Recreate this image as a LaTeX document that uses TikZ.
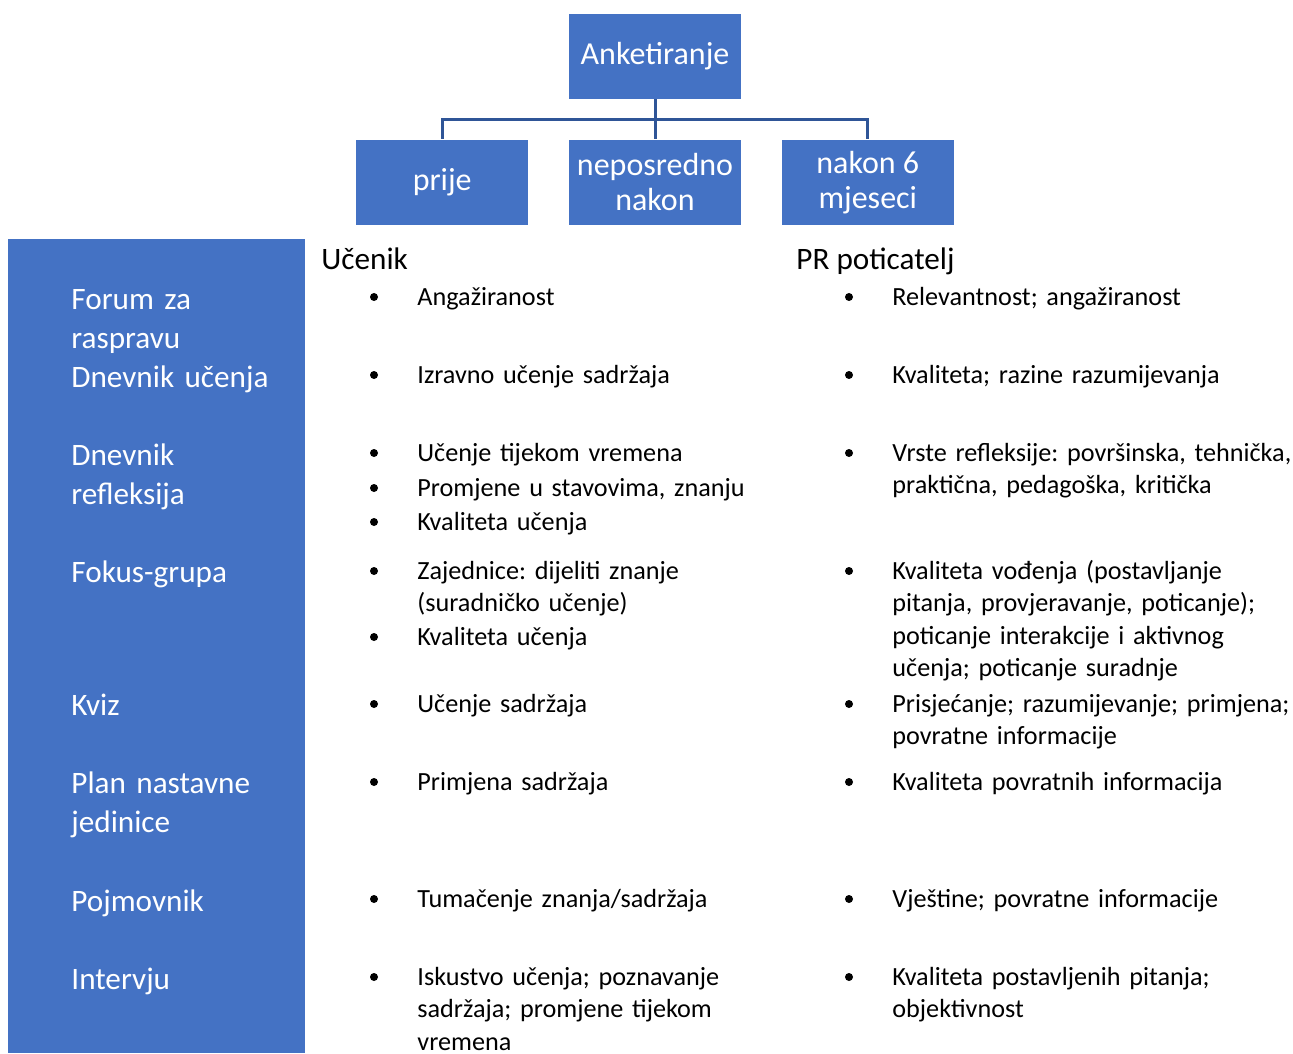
\documentclass[tikz,border=0pt]{standalone}
\usepackage{fontspec}
\setmainfont{Carlito}
\usetikzlibrary{positioning}
\definecolor{BoxBlue}{HTML}{4472C4}
\definecolor{LineBlue}{HTML}{2F5597}
\frenchspacing

\begin{document}
\begin{tikzpicture}[x=0.5pt, y=-0.5pt,
    box/.style={fill=BoxBlue, text=white, minimum width=86pt, minimum height=42.5pt, inner sep=0pt, align=center, font=\fontsize{16}{17.5}\selectfont},
    side/.style={anchor=base west, text=white, inner sep=0pt, align=left, text width=120pt, font=\fontsize{15.6}{19.5}\selectfont},
    head/.style={anchor=base west, inner sep=0pt, font=\fontsize{15.6}{19.5}\selectfont},
    item/.style={anchor=base west, inner sep=0pt, align=left, text width=220pt, font=\fontsize{13.1}{16.2}\selectfont},
    bulletdot/.style={circle, fill=black, inner sep=0pt, minimum size=4pt},
    conn/.style={draw=LineBlue, line width=1.5pt}]
    \useasboundingbox (0,0) rectangle (1293,1053);

    % survey tree
    \node[box] (anketa) at (655,56.5) {Anketiranje};
    \node[box, below=20pt of anketa] (neposredno) {neposredno\\nakon};
    \node[box, left=20pt of neposredno] (prije) {prije};
    \node[box, right=20pt of neposredno] (nakon) {nakon 6\\mjeseci};

    \draw[conn] (anketa.south) -- ++(0,20) coordinate (hub);
    \draw[conn] (hub) -- (neposredno.north);
    \draw[conn] (hub) -| (prije.north);
    \draw[conn] (hub) -| (nakon.north);

    % left panel
    \fill[BoxBlue] (8,239) rectangle (305,1053);
    \node[side] (forum) at (71,309) {Forum za\\raspravu};
    \node[side] (ucenja) at (71,387) {Dnevnik učenja};
    \node[side] (refleksija) at (71,465) {Dnevnik\\refleksija};
    \node[side] (fokus) at (71,582) {Fokus-grupa};
    \node[side] (kviz) at (71,715) {Kviz};
    \node[side] (plan) at (71,793) {Plan nastavne\\jedinice};
    \node[side] (pojmovnik) at (71,911) {Pojmovnik};
    \node[side] (intervju) at (71,989) {Intervju};

    % column heads
    \node[head] (ucenik) at (321,270) {Učenik};
    \node[head] (poticatelj) at (796,270) {PR poticatelj};

    % student column
    \node[item] (u1) at (417,305.5) {Angažiranost};
    \node[item] (u2) at (417,383.5) {Izravno učenje sadržaja};
    \node[item] (u3) at (417,461.5) {Učenje tijekom vremena};
    \node[item] (u4) at (417,496.5) {Promjene u stavovima, znanju};
    \node[item] (u5) at (417,530.5) {Kvaliteta učenja};
    \node[item] (u6) at (417,579.5) {Zajednice: dijeliti znanje\\(suradničko učenje)};
    \node[item] (u7) at (417,645.5) {Kvaliteta učenja};
    \node[item] (u8) at (417,712.5) {Učenje sadržaja};
    \node[item] (u9) at (417,790.5) {Primjena sadržaja};
    \node[item] (u10) at (417,907.5) {Tumačenje znanja/sadržaja};
    \node[item] (u11) at (417,985.5) {Iskustvo učenja; poznavanje\\sadržaja; promjene tijekom\\vremena};

    \node[bulletdot] (bu1) at (374,297) {};
    \node[bulletdot] (bu2) at (374,375) {};
    \node[bulletdot] (bu3) at (374,453) {};
    \node[bulletdot] (bu4) at (374,488) {};
    \node[bulletdot] (bu5) at (374,522) {};
    \node[bulletdot] (bu6) at (374,571) {};
    \node[bulletdot] (bu7) at (374,637) {};
    \node[bulletdot] (bu8) at (374,704) {};
    \node[bulletdot] (bu9) at (374,782) {};
    \node[bulletdot] (bu10) at (374,899) {};
    \node[bulletdot] (bu11) at (374,977) {};

    % facilitator column
    \node[item] (p1) at (892,305.5) {Relevantnost; angažiranost};
    \node[item] (p2) at (892,383.5) {Kvaliteta; razine razumijevanja};
    \node[item] (p3) at (892,461.5) {Vrste refleksije: površinska, tehnička,\\praktična, pedagoška, kritička};
    \node[item] (p4) at (892,579.5) {Kvaliteta vođenja (postavljanje\\pitanja, provjeravanje, poticanje);\\poticanje interakcije i aktivnog\\učenja; poticanje suradnje};
    \node[item] (p5) at (892,712.5) {Prisjećanje; razumijevanje; primjena;\\povratne informacije};
    \node[item] (p6) at (892,790.5) {Kvaliteta povratnih informacija};
    \node[item] (p7) at (892,907.5) {Vještine; povratne informacije};
    \node[item] (p8) at (892,985.5) {Kvaliteta postavljenih pitanja;\\objektivnost};

    \node[bulletdot] (bp1) at (849,297) {};
    \node[bulletdot] (bp2) at (849,375) {};
    \node[bulletdot] (bp3) at (849,453) {};
    \node[bulletdot] (bp4) at (849,571) {};
    \node[bulletdot] (bp5) at (849,704) {};
    \node[bulletdot] (bp6) at (849,782) {};
    \node[bulletdot] (bp7) at (849,899) {};
    \node[bulletdot] (bp8) at (849,977) {};
\end{tikzpicture}
\end{document}
